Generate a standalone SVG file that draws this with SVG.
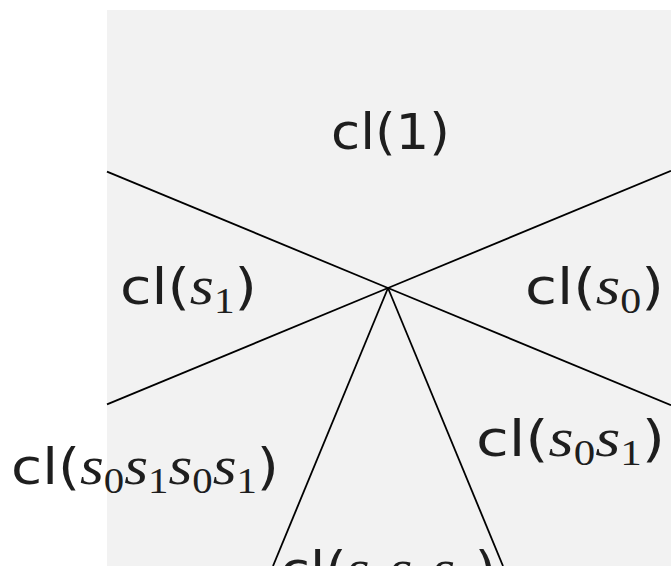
<svg xmlns="http://www.w3.org/2000/svg" width="671" height="566" viewBox="0 0 671 566">
<style>
.lbl{font-family:"DejaVu Sans","Liberation Sans",sans-serif;font-size:50px;fill:#1e1e1e}
.s{font-family:"Liberation Serif","DejaVu Serif",serif;font-style:italic;font-size:54px}
.sub{font-family:"Liberation Serif","DejaVu Serif",serif;font-style:normal;font-size:36px}
.wall{stroke:#000;stroke-width:1.8;fill:none}
</style>
<rect x="107" y="10" width="564" height="556" fill="#f2f2f2"/>
<g id="connectors">
<line class="wall" x1="107" y1="171.6" x2="388" y2="288"/>
<line class="wall" x1="107" y1="404.4" x2="388" y2="288"/>
<line class="wall" x1="671" y1="170.8" x2="388" y2="288"/>
<line class="wall" x1="671" y1="405.2" x2="388" y2="288"/>
<line class="wall" x1="273" y1="566" x2="388" y2="288"/>
<line class="wall" x1="503" y1="566" x2="388" y2="288"/>
</g>
<g id="n1"><text class="lbl" x="331" y="149" textLength="119" lengthAdjust="spacingAndGlyphs">cl(1)</text></g>
<g id="ns1"><text class="lbl" x="120" y="304" textLength="137" lengthAdjust="spacingAndGlyphs">cl(<tspan class="s">s</tspan><tspan class="sub" dy="9">1</tspan><tspan dy="-9">)</tspan></text></g>
<g id="ns0"><text class="lbl" x="525" y="304" textLength="139" lengthAdjust="spacingAndGlyphs">cl(<tspan class="s">s</tspan><tspan class="sub" dy="9">0</tspan><tspan dy="-9">)</tspan></text></g>
<g id="ns0s1"><text class="lbl" x="476" y="456" textLength="189" lengthAdjust="spacingAndGlyphs">cl(<tspan class="s">s</tspan><tspan class="sub" dy="9">0</tspan><tspan class="s" dy="-9">s</tspan><tspan class="sub" dy="9">1</tspan><tspan dy="-9">)</tspan></text></g>
<g id="ns0s1s0s1"><text class="lbl" x="11" y="484" textLength="268" lengthAdjust="spacingAndGlyphs">cl(<tspan class="s">s</tspan><tspan class="sub" dy="9">0</tspan><tspan class="s" dy="-9">s</tspan><tspan class="sub" dy="9">1</tspan><tspan class="s" dy="-9">s</tspan><tspan class="sub" dy="9">0</tspan><tspan class="s" dy="-9">s</tspan><tspan class="sub" dy="9">1</tspan><tspan dy="-9">)</tspan></text></g>
<g id="ns0s1s0"><text class="lbl" x="280" y="587" textLength="216" lengthAdjust="spacingAndGlyphs">cl(<tspan class="s">s</tspan><tspan class="sub" dy="9">0</tspan><tspan class="s" dy="-9">s</tspan><tspan class="sub" dy="9">1</tspan><tspan class="s" dy="-9">s</tspan><tspan class="sub" dy="9">0</tspan><tspan dy="-9">)</tspan></text></g>
</svg>
